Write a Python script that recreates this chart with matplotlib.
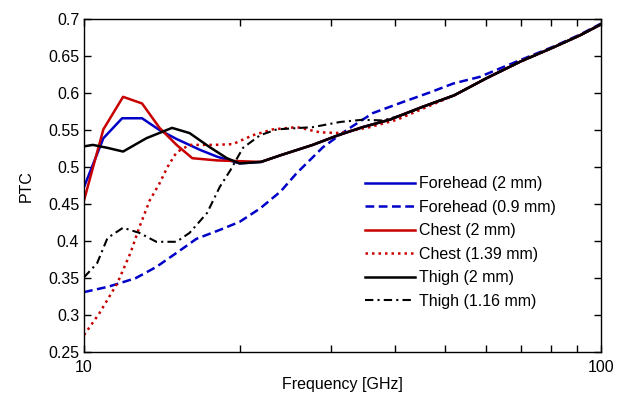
import matplotlib.pyplot as plt
from matplotlib.ticker import FixedLocator, FixedFormatter, LogLocator, NullFormatter

plt.rcParams["font.family"] = ["Liberation Sans", "DejaVu Sans"]

# shared high-frequency tail where all curves merge
TAIL_FREQ = [45, 52, 60, 70, 81, 91, 100]
TAIL_PTC = [0.581, 0.597, 0.620, 0.643, 0.662, 0.678, 0.693]

MID_FREQ = [22, 24, 27.7, 31, 34.6, 39]
MID_PTC = [0.507, 0.516, 0.530, 0.543, 0.554, 0.564]

forehead_2_freq = [10, 10.9, 11.85, 12.95, 14.0, 15.1, 16.8, 18.1, 20] + MID_FREQ + TAIL_FREQ
forehead_2_ptc = [0.473, 0.539, 0.566, 0.566, 0.550, 0.538, 0.523, 0.514, 0.505] + MID_PTC + TAIL_PTC

forehead_09_freq = [10, 11.1, 11.6, 12.6, 13.8, 15.1, 16.5, 18.3, 20, 21.9, 24, 25.8,
                    29, 32.2, 36.2, 41.4, 46.7, 51.8, 58.3, 64.6, 70, 81, 91, 100]
forehead_09_ptc = [0.331, 0.338, 0.342, 0.350, 0.365, 0.384, 0.403, 0.415, 0.426, 0.444, 0.467, 0.492,
                   0.527, 0.550, 0.573, 0.588, 0.601, 0.613, 0.622, 0.635, 0.645, 0.663, 0.679, 0.694]

chest_2_freq = [10, 10.9, 11.9, 12.95, 14, 15.1, 16.2, 18.1, 20] + MID_FREQ + TAIL_FREQ
chest_2_ptc = [0.455, 0.551, 0.595, 0.586, 0.553, 0.530, 0.512, 0.509, 0.508] + MID_PTC + TAIL_PTC

chest_139_freq = [10, 10.7, 11.6, 12.3, 12.8, 13.4, 14.0, 14.5, 15.1, 16, 17.8, 19.4, 21.2,
                  23.2, 25.8, 28.6, 31.3, 35.7, 40.3] + TAIL_FREQ[1:]
chest_139_ptc = [0.273, 0.302, 0.343, 0.384, 0.419, 0.455, 0.478, 0.500, 0.520, 0.530, 0.530, 0.531, 0.543,
                 0.551, 0.554, 0.547, 0.546, 0.554, 0.564] + TAIL_PTC[1:]

thigh_2_freq = [10, 10.4, 11.1, 11.9, 13.2, 14.8, 16, 17.5, 18.9, 20] + MID_FREQ + TAIL_FREQ
thigh_2_ptc = [0.528, 0.530, 0.526, 0.521, 0.539, 0.553, 0.546, 0.527, 0.512, 0.505] + MID_PTC + TAIL_PTC

thigh_116_freq = [10, 10.6, 11.1, 11.9, 12.8, 13.8, 15.1, 16, 17.3, 18.3, 19.2, 20.3, 21.9,
                  23.6, 27.7, 31.3, 34.6, 37.9, 42] + TAIL_FREQ
thigh_116_ptc = [0.351, 0.370, 0.404, 0.418, 0.411, 0.399, 0.399, 0.411, 0.438, 0.473, 0.496, 0.526, 0.543,
                 0.551, 0.554, 0.561, 0.564, 0.563, 0.572] + TAIL_PTC

BLUE = "#0000c8"
RED = "#c80000"

fig = plt.figure(figsize=(6.27, 3.99), dpi=100)
ax = fig.add_axes([0.134, 0.1178, 0.8245, 0.8342])

ax.plot(forehead_2_freq, forehead_2_ptc, color=BLUE, lw=1.8, label="Forehead (2 mm)")
ax.plot(forehead_09_freq, forehead_09_ptc, color=BLUE, lw=1.8, ls=(0, (3.5, 1.8)), label="Forehead (0.9 mm)")
ax.plot(chest_2_freq, chest_2_ptc, color=RED, lw=1.8, label="Chest (2 mm)")
ax.plot(chest_139_freq, chest_139_ptc, color=RED, lw=1.8, ls=(0, (1, 1.6)), label="Chest (1.39 mm)")
ax.plot(thigh_2_freq, thigh_2_ptc, color="black", lw=1.8, label="Thigh (2 mm)")
ax.plot(thigh_116_freq, thigh_116_ptc, color="black", lw=1.5, ls=(0, (4, 2, 1, 2)), label="Thigh (1.16 mm)")

ax.set_xscale("log")
ax.set_xlim(10, 100)
ax.set_ylim(0.25, 0.7)
ax.xaxis.set_major_locator(FixedLocator([10, 100]))
ax.xaxis.set_major_formatter(FixedFormatter(["10", "100"]))
ax.xaxis.set_minor_locator(LogLocator(base=10, subs=range(2, 10)))
ax.xaxis.set_minor_formatter(NullFormatter())
yt = [0.25, 0.3, 0.35, 0.4, 0.45, 0.5, 0.55, 0.6, 0.65, 0.7]
ax.set_yticks(yt)
ax.set_yticklabels([f"{v:g}" for v in yt])
ax.tick_params(which="both", direction="in", top=True, right=True, length=5, width=1, labelsize=11.5)
ax.tick_params(axis="x", pad=6)
for s in ax.spines.values():
    s.set_linewidth(1)

ax.set_xlabel("Frequency [GHz]", fontsize=11.5, labelpad=1)
ax.set_ylabel("PTC", fontsize=11.5, labelpad=10)

ax.legend(loc="upper left", bbox_to_anchor=(0.5435, 0.528), frameon=False, fontsize=11.5,
          handlelength=3.1, handletextpad=0.3, labelspacing=0.53, borderpad=0, borderaxespad=0)

fig.savefig("out.png", dpi=100)
